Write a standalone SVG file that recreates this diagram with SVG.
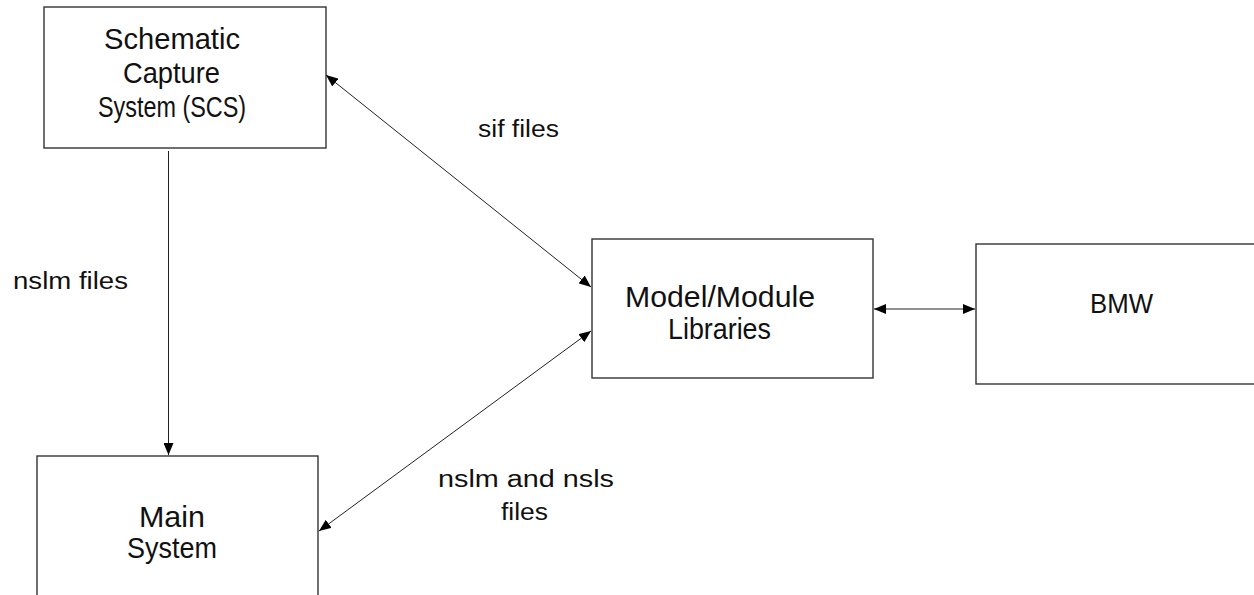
<svg xmlns="http://www.w3.org/2000/svg" width="1254" height="595" viewBox="0 0 1254 595">
  <style>
    .box { fill: #fff; stroke: #333; stroke-width: 1.4; }
    .node-text { font-family: "Liberation Sans", Arial, sans-serif; font-size: 30px; fill: #111; }
    .bmw-text { font-family: "Liberation Sans", Arial, sans-serif; font-size: 27px; fill: #111; }
    .label { font-family: "Liberation Sans", Arial, sans-serif; font-size: 23px; fill: #111; }
    .link { fill: none; stroke: #222; stroke-width: 1; }
  </style>
  <defs>
    <marker id="head" viewBox="0 0 12 10" refX="12" refY="5" markerWidth="12" markerHeight="10" markerUnits="userSpaceOnUse" orient="auto-start-reverse">
      <path d="M0,0 L12,5 L0,10 z" fill="#000"/>
    </marker>
  </defs>
  <rect width="1254" height="595" fill="#fff"/>

  <!-- blocks -->
  <g id="scs">
    <rect class="box" x="44" y="7" width="282" height="141"/>
    <text class="node-text" x="104" y="49" textLength="136" lengthAdjust="spacingAndGlyphs">Schematic</text>
    <text class="node-text" x="123" y="83" textLength="97" lengthAdjust="spacingAndGlyphs">Capture</text>
    <text class="node-text" x="98" y="117" textLength="148" lengthAdjust="spacingAndGlyphs">System (SCS)</text>
  </g>
  <g id="main-system">
    <rect class="box" x="37" y="456" width="281" height="160"/>
    <text class="node-text" x="139" y="527" textLength="66" lengthAdjust="spacingAndGlyphs">Main</text>
    <text class="node-text" x="127" y="558" textLength="90" lengthAdjust="spacingAndGlyphs">System</text>
  </g>
  <g id="libraries">
    <rect class="box" x="592" y="239" width="281" height="139"/>
    <text class="node-text" x="625" y="307" textLength="190" lengthAdjust="spacingAndGlyphs">Model/Module</text>
    <text class="node-text" x="668" y="339" textLength="103" lengthAdjust="spacingAndGlyphs">Libraries</text>
  </g>
  <g id="bmw">
    <rect class="box" x="976" y="244" width="300" height="140"/>
    <text class="bmw-text" x="1090" y="313" textLength="63" lengthAdjust="spacingAndGlyphs">BMW</text>
  </g>

  <!-- connectors -->
  <g id="connectors">
    <line class="link" x1="168.5" y1="151" x2="168.5" y2="455" marker-end="url(#head)"/>
    <line class="link" x1="326" y1="75" x2="591" y2="287" marker-start="url(#head)" marker-end="url(#head)"/>
    <line class="link" x1="319" y1="531" x2="591" y2="331" marker-start="url(#head)" marker-end="url(#head)"/>
    <line class="link" x1="874" y1="309" x2="975" y2="309" marker-start="url(#head)" marker-end="url(#head)"/>
  </g>

  <!-- connector labels -->
  <g id="labels">
    <text class="label" x="478" y="137" textLength="81" lengthAdjust="spacingAndGlyphs">sif files</text>
    <text class="label" x="13" y="289" textLength="115" lengthAdjust="spacingAndGlyphs">nslm files</text>
    <text class="label" x="438" y="487" textLength="176" lengthAdjust="spacingAndGlyphs">nslm and nsls</text>
    <text class="label" x="501" y="520" textLength="47" lengthAdjust="spacingAndGlyphs">files</text>
  </g>
</svg>
